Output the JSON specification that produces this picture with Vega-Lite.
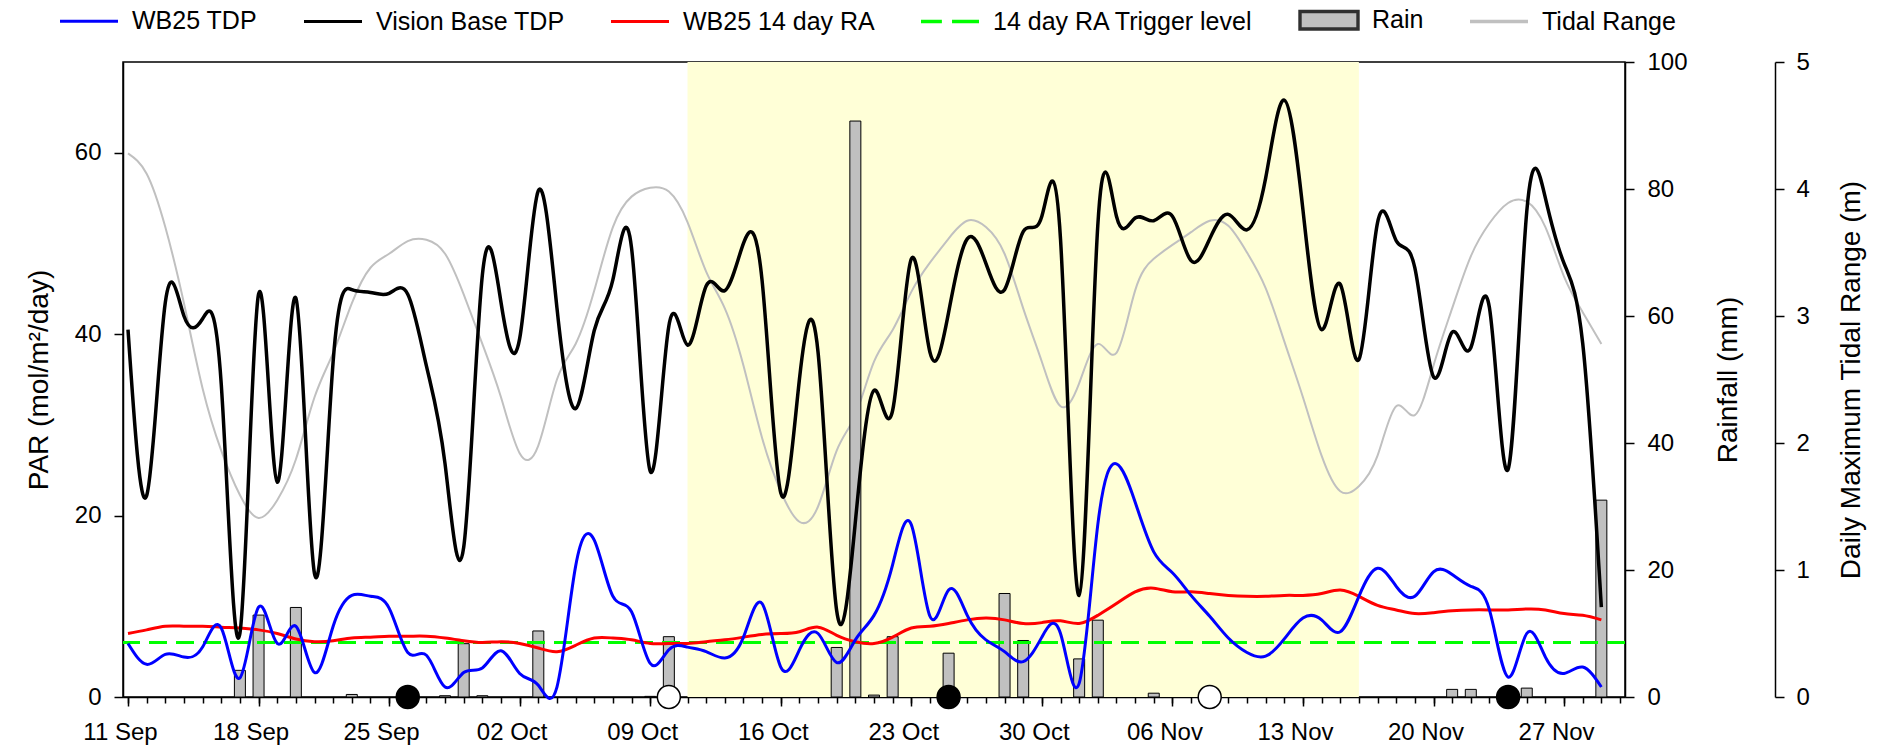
{
  "$schema": "https://vega.github.io/schema/vega-lite/v6.json",
  "width": 1502,
  "height": 635,
  "autosize": {"type": "none"},
  "padding": {"left": 123, "top": 62, "right": 262, "bottom": 51},
  "background": "white",
  "config": {
    "view": {"stroke": "black", "strokeWidth": 1.5},
    "font": "Liberation Sans",
    "axis": {"grid": false, "domainColor": "black", "domainWidth": 1.5, "tickColor": "black", "tickWidth": 1.5, "labelColor": "black", "labelFont": "Liberation Sans", "labelFontSize": 24, "titleFont": "Liberation Sans", "titleFontSize": 28, "titleFontWeight": "normal", "titleColor": "black"},
    "legend": {"orient": "none", "legendX": -65, "legendY": -73, "direction": "horizontal", "columns": 6, "columnPadding": 39, "symbolSize": 3364, "labelFont": "Liberation Sans", "labelFontSize": 25, "labelColor": "black", "labelLimit": 500, "labelOffset": 12, "padding": 0}
  },
  "datasets": {
    "daily": [
      {"date": "2022-09-11", "wb25": 5.9, "vb": 40.5, "ra": 7.0, "tide": 4.28},
      {"date": "2022-09-12", "wb25": 3.6, "vb": 22.2, "ra": 7.4, "tide": 4.12},
      {"date": "2022-09-13", "wb25": 4.7, "vb": 43.5, "ra": 7.8, "tide": 3.70},
      {"date": "2022-09-14", "wb25": 4.4, "vb": 42.0, "ra": 7.8, "tide": 3.10},
      {"date": "2022-09-15", "wb25": 5.5, "vb": 41.7, "ra": 7.8, "tide": 2.43},
      {"date": "2022-09-16", "wb25": 7.6, "vb": 34.5, "ra": 7.7, "tide": 1.94},
      {"date": "2022-09-17", "wb25": 2.1, "vb": 7.0, "ra": 7.6, "tide": 1.59},
      {"date": "2022-09-18", "wb25": 9.9, "vb": 44.4, "ra": 7.4, "tide": 1.41},
      {"date": "2022-09-19", "wb25": 5.9, "vb": 23.7, "ra": 7.0, "tide": 1.55},
      {"date": "2022-09-20", "wb25": 7.8, "vb": 44.0, "ra": 6.4, "tide": 1.87},
      {"date": "2022-09-21", "wb25": 2.7, "vb": 13.6, "ra": 6.1, "tide": 2.36},
      {"date": "2022-09-22", "wb25": 7.8, "vb": 37.0, "ra": 6.2, "tide": 2.71},
      {"date": "2022-09-23", "wb25": 11.2, "vb": 44.9, "ra": 6.5, "tide": 3.10},
      {"date": "2022-09-24", "wb25": 11.1, "vb": 44.6, "ra": 6.6, "tide": 3.38},
      {"date": "2022-09-25", "wb25": 9.8, "vb": 44.5, "ra": 6.7, "tide": 3.49},
      {"date": "2022-09-26", "wb25": 4.9, "vb": 44.4, "ra": 6.7, "tide": 3.59},
      {"date": "2022-09-27", "wb25": 4.6, "vb": 36.5, "ra": 6.7, "tide": 3.60},
      {"date": "2022-09-28", "wb25": 1.1, "vb": 25.7, "ra": 6.5, "tide": 3.49},
      {"date": "2022-09-29", "wb25": 2.7, "vb": 16.5, "ra": 6.2, "tide": 3.17},
      {"date": "2022-09-30", "wb25": 3.2, "vb": 46.5, "ra": 6.0, "tide": 2.78},
      {"date": "2022-10-01", "wb25": 5.1, "vb": 43.5, "ra": 6.1, "tide": 2.36},
      {"date": "2022-10-02", "wb25": 2.6, "vb": 39.5, "ra": 5.9, "tide": 1.92},
      {"date": "2022-10-03", "wb25": 1.3, "vb": 55.8, "ra": 5.4, "tide": 1.98},
      {"date": "2022-10-04", "wb25": 1.1, "vb": 42.9, "ra": 5.0, "tide": 2.50},
      {"date": "2022-10-05", "wb25": 14.4, "vb": 31.8, "ra": 5.7, "tide": 2.78},
      {"date": "2022-10-06", "wb25": 17.3, "vb": 40.4, "ra": 6.5, "tide": 3.20},
      {"date": "2022-10-07", "wb25": 11.1, "vb": 46.0, "ra": 6.5, "tide": 3.70},
      {"date": "2022-10-08", "wb25": 9.4, "vb": 49.5, "ra": 6.3, "tide": 3.94},
      {"date": "2022-10-09", "wb25": 3.7, "vb": 24.9, "ra": 5.9, "tide": 4.01},
      {"date": "2022-10-10", "wb25": 5.2, "vb": 40.9, "ra": 5.9, "tide": 3.98},
      {"date": "2022-10-11", "wb25": 5.5, "vb": 38.8, "ra": 5.9, "tide": 3.74},
      {"date": "2022-10-12", "wb25": 5.0, "vb": 45.3, "ra": 6.1, "tide": 3.35},
      {"date": "2022-10-13", "wb25": 4.3, "vb": 44.8, "ra": 6.3, "tide": 3.06},
      {"date": "2022-10-14", "wb25": 6.6, "vb": 50.0, "ra": 6.6, "tide": 2.61},
      {"date": "2022-10-15", "wb25": 10.3, "vb": 45.9, "ra": 6.9, "tide": 2.04},
      {"date": "2022-10-16", "wb25": 3.3, "vb": 22.5, "ra": 7.0, "tide": 1.62},
      {"date": "2022-10-17", "wb25": 5.2, "vb": 35.0, "ra": 7.2, "tide": 1.38},
      {"date": "2022-10-18", "wb25": 7.0, "vb": 38.0, "ra": 7.7, "tide": 1.50},
      {"date": "2022-10-19", "wb25": 3.8, "vb": 9.5, "ra": 6.8, "tide": 1.94},
      {"date": "2022-10-20", "wb25": 6.3, "vb": 19.3, "ra": 6.1, "tide": 2.22},
      {"date": "2022-10-21", "wb25": 9.0, "vb": 33.8, "ra": 5.9, "tide": 2.64},
      {"date": "2022-10-22", "wb25": 14.6, "vb": 31.6, "ra": 6.6, "tide": 2.89},
      {"date": "2022-10-23", "wb25": 19.0, "vb": 48.3, "ra": 7.6, "tide": 3.19},
      {"date": "2022-10-24", "wb25": 8.9, "vb": 38.0, "ra": 7.8, "tide": 3.42},
      {"date": "2022-10-25", "wb25": 11.8, "vb": 42.4, "ra": 8.1, "tide": 3.61},
      {"date": "2022-10-26", "wb25": 9.0, "vb": 50.5, "ra": 8.5, "tide": 3.75},
      {"date": "2022-10-27", "wb25": 6.3, "vb": 47.8, "ra": 8.7, "tide": 3.70},
      {"date": "2022-10-28", "wb25": 5.0, "vb": 44.9, "ra": 8.5, "tide": 3.49},
      {"date": "2022-10-29", "wb25": 3.9, "vb": 51.3, "ra": 8.1, "tide": 3.06},
      {"date": "2022-10-30", "wb25": 6.6, "vb": 53.0, "ra": 8.2, "tide": 2.64},
      {"date": "2022-10-31", "wb25": 7.0, "vb": 50.5, "ra": 8.4, "tide": 2.29},
      {"date": "2022-11-01", "wb25": 1.5, "vb": 11.2, "ra": 8.1, "tide": 2.47},
      {"date": "2022-11-02", "wb25": 19.0, "vb": 52.0, "ra": 9.0, "tide": 2.78},
      {"date": "2022-11-03", "wb25": 25.7, "vb": 53.0, "ra": 10.3, "tide": 2.71},
      {"date": "2022-11-04", "wb25": 21.5, "vb": 52.8, "ra": 11.6, "tide": 3.20},
      {"date": "2022-11-05", "wb25": 16.0, "vb": 52.5, "ra": 12.0, "tide": 3.45},
      {"date": "2022-11-06", "wb25": 13.7, "vb": 53.0, "ra": 11.6, "tide": 3.56},
      {"date": "2022-11-07", "wb25": 11.2, "vb": 48.1, "ra": 11.6, "tide": 3.66},
      {"date": "2022-11-08", "wb25": 8.9, "vb": 50.5, "ra": 11.4, "tide": 3.75},
      {"date": "2022-11-09", "wb25": 6.5, "vb": 53.2, "ra": 11.2, "tide": 3.71},
      {"date": "2022-11-10", "wb25": 4.9, "vb": 51.5, "ra": 11.1, "tide": 3.50},
      {"date": "2022-11-11", "wb25": 4.5, "vb": 57.2, "ra": 11.1, "tide": 3.22},
      {"date": "2022-11-12", "wb25": 6.4, "vb": 65.8, "ra": 11.2, "tide": 2.80},
      {"date": "2022-11-13", "wb25": 8.7, "vb": 53.7, "ra": 11.2, "tide": 2.36},
      {"date": "2022-11-14", "wb25": 8.5, "vb": 40.5, "ra": 11.4, "tide": 1.90},
      {"date": "2022-11-15", "wb25": 7.2, "vb": 45.5, "ra": 11.8, "tide": 1.62},
      {"date": "2022-11-16", "wb25": 11.1, "vb": 37.2, "ra": 11.1, "tide": 1.66},
      {"date": "2022-11-17", "wb25": 14.2, "vb": 52.3, "ra": 10.1, "tide": 1.90},
      {"date": "2022-11-18", "wb25": 12.2, "vb": 50.3, "ra": 9.6, "tide": 2.29},
      {"date": "2022-11-19", "wb25": 11.1, "vb": 47.3, "ra": 9.2, "tide": 2.22},
      {"date": "2022-11-20", "wb25": 13.8, "vb": 35.3, "ra": 9.3, "tide": 2.61},
      {"date": "2022-11-21", "wb25": 13.5, "vb": 40.2, "ra": 9.5, "tide": 3.06},
      {"date": "2022-11-22", "wb25": 12.2, "vb": 38.5, "ra": 9.6, "tide": 3.47},
      {"date": "2022-11-23", "wb25": 9.6, "vb": 42.9, "ra": 9.6, "tide": 3.73},
      {"date": "2022-11-24", "wb25": 2.2, "vb": 25.1, "ra": 9.6, "tide": 3.89},
      {"date": "2022-11-25", "wb25": 7.0, "vb": 53.5, "ra": 9.7, "tide": 3.90},
      {"date": "2022-11-26", "wb25": 4.4, "vb": 55.0, "ra": 9.6, "tide": 3.70},
      {"date": "2022-11-27", "wb25": 2.6, "vb": 47.8, "ra": 9.2, "tide": 3.31},
      {"date": "2022-11-28", "wb25": 3.3, "vb": 39.0, "ra": 9.0, "tide": 3.03},
      {"date": "2022-11-29", "wb25": 1.1, "vb": 9.9, "ra": 8.5, "tide": 2.78}
    ],
    "rain": [
      {"date": "2022-09-17", "rain": 4.2},
      {"date": "2022-09-18", "rain": 12.9},
      {"date": "2022-09-20", "rain": 14.1},
      {"date": "2022-09-23", "rain": 0.4},
      {"date": "2022-09-28", "rain": 0.2},
      {"date": "2022-09-29", "rain": 8.4},
      {"date": "2022-09-30", "rain": 0.2},
      {"date": "2022-10-03", "rain": 10.4},
      {"date": "2022-10-09", "rain": 0.1},
      {"date": "2022-10-10", "rain": 9.5},
      {"date": "2022-10-19", "rain": 7.8},
      {"date": "2022-10-20", "rain": 90.7},
      {"date": "2022-10-21", "rain": 0.3},
      {"date": "2022-10-22", "rain": 9.5},
      {"date": "2022-10-25", "rain": 6.9},
      {"date": "2022-10-28", "rain": 16.3},
      {"date": "2022-10-29", "rain": 8.9},
      {"date": "2022-11-01", "rain": 6.0},
      {"date": "2022-11-02", "rain": 12.1},
      {"date": "2022-11-05", "rain": 0.6},
      {"date": "2022-11-21", "rain": 1.2},
      {"date": "2022-11-22", "rain": 1.2},
      {"date": "2022-11-25", "rain": 1.4},
      {"date": "2022-11-29", "rain": 31.0}
    ],
    "moon": [
      {"date": "2022-09-26", "phase": "new"},
      {"date": "2022-10-10", "phase": "full"},
      {"date": "2022-10-25", "phase": "new"},
      {"date": "2022-11-08", "phase": "full"},
      {"date": "2022-11-24", "phase": "new"}
    ],
    "shade": [{"start": "2022-10-11", "end": "2022-11-16"}],
    "trigger": [{"level": 6}],
    "legend": [
      {"series": "WB25 TDP"},
      {"series": "Vision Base TDP"},
      {"series": "WB25 14 day RA"},
      {"series": "14 day RA Trigger level"},
      {"series": "Rain"},
      {"series": "Tidal Range"}
    ]
  },
  "layer": [
    {
      "data": {"name": "shade"},
      "mark": {"type": "rect", "fill": "#FFFFD7"},
      "encoding": {
        "x": {"field": "start", "type": "temporal",
              "scale": {"type": "utc", "domain": [{"year": 2022, "month": 9, "date": 11, "utc": true}, {"year": 2022, "month": 11, "date": 30, "utc": true}]},
              "axis": {"orient": "bottom", "tickCount": {"interval": "day", "step": 1}, "labels": false, "domain": false, "tickSize": 6, "title": null}},
        "x2": {"field": "end"}
      }
    },
    {
      "data": {"name": "daily"},
      "mark": {"type": "line", "color": "#C0C0C0", "strokeWidth": 2, "interpolate": "natural"},
      "encoding": {
        "x": {"field": "date", "type": "temporal", "axis": null,
              "scale": {"type": "utc", "domain": [{"year": 2022, "month": 9, "date": 11, "utc": true}, {"year": 2022, "month": 11, "date": 30, "utc": true}]}},
        "y": {"field": "tide", "type": "quantitative",
              "scale": {"domain": [0, 5], "nice": false},
              "axis": {"orient": "right", "offset": 150, "values": [0, 1, 2, 3, 4, 5], "tickSize": 9, "labelPadding": 12, "title": "Daily Maximum Tidal Range (m)", "titleAngle": 270, "titleBaseline": "top", "titlePadding": 28}}
      }
    },
    {
      "data": {"name": "rain"},
      "mark": {"type": "bar", "width": 11, "fill": "#C0C0C0", "stroke": "#000000", "strokeWidth": 1},
      "encoding": {
        "x": {"field": "date", "type": "temporal",
              "scale": {"type": "utc", "domain": [{"year": 2022, "month": 9, "date": 11, "utc": true}, {"year": 2022, "month": 11, "date": 30, "utc": true}]},
              "axis": {"orient": "bottom", "tickCount": {"interval": "week", "step": 1}, "format": "%d %b", "tickSize": 9, "labelPadding": 14, "labelOffset": -8, "labelOverlap": false, "labelFlush": false, "title": null}},
        "y": {"field": "rain", "type": "quantitative",
              "scale": {"domain": [0, 100], "nice": false},
              "axis": {"orient": "right", "values": [0, 20, 40, 60, 80, 100], "tickSize": 9, "labelPadding": 13, "title": "Rainfall (mm)", "titleAngle": 270, "titleBaseline": "top", "titlePadding": 27}}
      }
    },
    {
      "layer": [
        {
          "data": {"name": "trigger"},
          "mark": {"type": "rule", "color": "#00FF00", "strokeWidth": 3, "strokeDash": [18, 9]},
          "encoding": {
            "y": {"field": "level", "type": "quantitative",
                  "scale": {"domain": [0, 70], "nice": false},
                  "axis": {"orient": "left", "values": [0, 20, 40, 60], "tickSize": 9, "labelPadding": 13, "title": "PAR (mol/m²/day)", "titlePadding": 21}}
          }
        },
        {
          "data": {"name": "daily"},
          "mark": {"type": "line", "color": "#FF0000", "strokeWidth": 3, "interpolate": "natural"},
          "encoding": {
            "x": {"field": "date", "type": "temporal", "axis": null},
            "y": {"field": "ra", "type": "quantitative"}
          }
        },
        {
          "data": {"name": "daily"},
          "mark": {"type": "line", "color": "#000000", "strokeWidth": 3.5, "interpolate": "natural"},
          "encoding": {
            "x": {"field": "date", "type": "temporal", "axis": null},
            "y": {"field": "vb", "type": "quantitative"}
          }
        },
        {
          "data": {"name": "daily"},
          "mark": {"type": "line", "color": "#0000FF", "strokeWidth": 3, "interpolate": "natural"},
          "encoding": {
            "x": {"field": "date", "type": "temporal", "axis": null},
            "y": {"field": "wb25", "type": "quantitative"}
          }
        },
        {
          "data": {"name": "moon"},
          "transform": [{"filter": "datum.phase == 'new'"}],
          "mark": {"type": "point", "shape": "circle", "filled": true, "size": 529, "fill": "#000000", "stroke": "#000000", "strokeWidth": 1.5, "opacity": 1},
          "encoding": {
            "x": {"field": "date", "type": "temporal", "axis": null},
            "y": {"datum": 0, "type": "quantitative"}
          }
        },
        {
          "data": {"name": "moon"},
          "transform": [{"filter": "datum.phase == 'full'"}],
          "mark": {"type": "point", "shape": "circle", "filled": true, "size": 529, "fill": "#FFFFFF", "stroke": "#000000", "strokeWidth": 1.5, "opacity": 1},
          "encoding": {
            "x": {"field": "date", "type": "temporal", "axis": null},
            "y": {"datum": 0, "type": "quantitative"}
          }
        }
      ]
    },
    {
      "data": {"name": "legend"},
      "transform": [{"filter": "false"}],
      "mark": {"type": "point", "filled": true, "opacity": 1},
      "encoding": {
        "fill": {"field": "series", "type": "nominal", "title": null,
                 "scale": {"domain": ["WB25 TDP", "Vision Base TDP", "WB25 14 day RA", "14 day RA Trigger level", "Rain", "Tidal Range"],
                           "range": ["#0000FF", "#000000", "#FF0000", "#00FF00", "#C0C0C0", "#C0C0C0"]}},
        "stroke": {"field": "series", "type": "nominal", "title": null,
                 "scale": {"domain": ["WB25 TDP", "Vision Base TDP", "WB25 14 day RA", "14 day RA Trigger level", "Rain", "Tidal Range"],
                           "range": ["#0000FF", "#000000", "#FF0000", "#00FF00", "#303030", "#C0C0C0"]}},
        "shape": {"field": "series", "type": "nominal", "title": null,
                 "scale": {"domain": ["WB25 TDP", "Vision Base TDP", "WB25 14 day RA", "14 day RA Trigger level", "Rain", "Tidal Range"],
                           "range": ["M-1,0H1", "M-1,0H1", "M-1,0H1", "M-1,0H-0.28M0.07,0H1", "M-1,-0.3H1V0.3H-1Z", "M-1,0H1"]}},
        "strokeWidth": {"field": "series", "type": "nominal", "title": null,
                 "scale": {"domain": ["WB25 TDP", "Vision Base TDP", "WB25 14 day RA", "14 day RA Trigger level", "Rain", "Tidal Range"],
                           "range": [3, 3.5, 3, 3, 1, 2]}}
      }
    }
  ],
  "resolve": {"scale": {"y": "independent"}, "axis": {"x": "independent", "y": "independent"}}
}
